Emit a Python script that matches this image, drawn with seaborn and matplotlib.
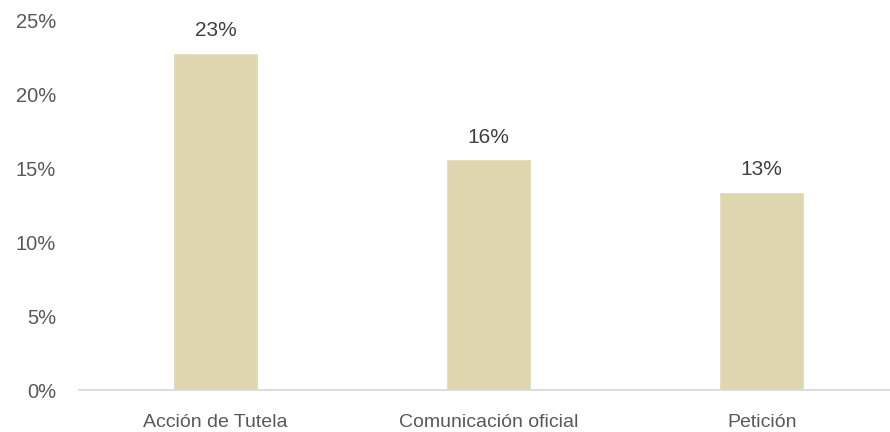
import matplotlib
matplotlib.use("Agg")
import matplotlib.pyplot as plt
import seaborn as sns
import pandas as pd
from matplotlib.ticker import FuncFormatter, MultipleLocator

categories = ["Acción de Tutela", "Comunicación oficial", "Petición"]
shares = [22.8, 15.6, 13.4]

df = pd.DataFrame({"tipo": categories, "porcentaje": shares})

sns.set_theme(style="white")
plt.rcParams["font.family"] = ["Liberation Sans", "DejaVu Sans"]

fig = plt.figure(figsize=(8.9, 4.32), dpi=100)
ax = fig.add_axes([79 / 890, 42 / 432, 1 - 79 / 890, 370 / 432])

bar_color = "#DED6AF"
sns.barplot(data=df, x="tipo", y="porcentaje", color=bar_color, width=0.31,
            saturation=1, ax=ax)

ax.set_ylim(0, 25)
ax.set_xlim(-0.5, 2.47)
ax.yaxis.set_major_locator(MultipleLocator(5))
ax.yaxis.set_major_formatter(FuncFormatter(lambda v, p: f"{v:.0f}%"))

text_color = "#595959"
ax.tick_params(axis="y", labelsize=14.5, colors=text_color, pad=16.5, length=0)
ax.tick_params(axis="x", labelsize=14, colors=text_color, pad=17, length=0)

ax.set_xlabel("")
ax.set_ylabel("")
for side in ["top", "right", "left"]:
    ax.spines[side].set_visible(False)
ax.spines["bottom"].set_color("#D9D9D9")
ax.spines["bottom"].set_linewidth(1.3)

for container in ax.containers:
    ax.bar_label(container, labels=[f"{v:.0f}%" for v in shares], padding=9,
                 fontsize=15, color="#404040")

fig.savefig("out.png", dpi=100)
